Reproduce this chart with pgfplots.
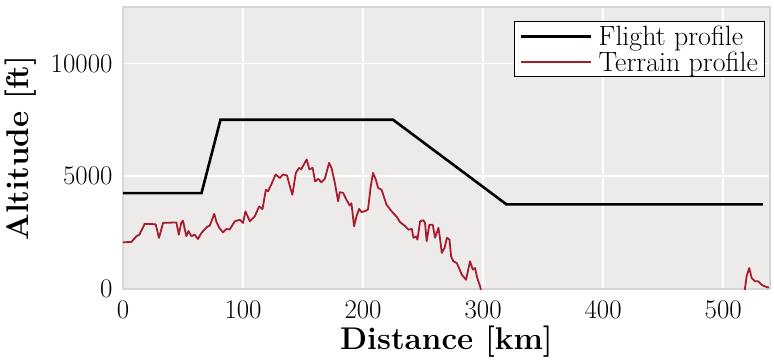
\documentclass[border=0pt]{standalone}
\usepackage{pgfplots}
\pgfplotsset{compat=1.18}
\definecolor{bgc}{RGB}{236,235,234}
\definecolor{terr}{RGB}{168,28,45}
\begin{document}
\begin{tikzpicture}
\begin{axis}[
 name=ax,
 scale only axis, width=647bp, height=282bp,
 xmin=0, xmax=539, ymin=0, ymax=12500,
 axis background/.style={fill=bgc},
 axis line style={draw=black!16, line width=1.5bp},
 grid=major, major grid style={white, line width=1.5bp},
 tick style={draw=none},
 xtick={0,100,200,300,400,500}, ytick={0,5000,10000},
 scaled y ticks=false,
 /pgf/number format/assume math mode=true,
 yticklabel style={/pgf/number format/1000 sep={}, xshift=-7bp},
 xticklabel style={yshift=-8bp},
 tick label style={font=\fontsize{27}{27}\selectfont},
 xlabel={\textbf{Distance [km]}}, ylabel={\textbf{Altitude [ft]}},
 label style={font=\fontsize{31.5}{31.5}\selectfont},
 xlabel style={at={(axis description cs:0.5,-0.185)}, anchor=center},
 ylabel style={at={(axis description cs:-0.158,0.5)}, anchor=center},
 legend style={at={(0.993,0.95)}, anchor=north east, draw=black, line width=1.2bp,
   font=\fontsize{28}{28}\selectfont, inner xsep=6bp, inner ysep=3bp,
   nodes={inner sep=1bp}, row sep=3bp, column sep=5bp, fill=white},
 legend cell align=left,
 legend image code/.code={\draw[#1] (0bp,0bp) -- (70bp,0bp);},
]
\addplot[black, line width=2.6bp] coordinates {
(0,4250) (65.4,4250) (81.2,7500) (225,7500) (319.5,3750) (533,3750)};
\addlegendentry{Flight profile}
\addplot[terr, line width=1.8bp, line join=round] coordinates {
(0,2070) (7,2085) (11.2,2340) (13.7,2410) (18.1,2890) (27.2,2870) (30,2265)
(33.4,2930) (44.5,2950) (46.5,2410) (48.5,2930) (50,3030) (51.5,2630) (52.8,2340)
(54.5,2570) (57,2340) (59.7,2410) (62.4,2215) (65.4,2490) (70,2750) (72.3,2810)
(76,3330) (78,2950) (80.3,2710) (83.3,2510) (86.1,2660) (88.9,2640) (93.1,3000)
(97.3,3070) (100,2930) (102,3440) (105.7,3000) (109.8,3220) (113.4,3660) (116.2,3540)
(119,4400) (120.8,4330) (122.8,4550) (127.2,5080) (130.6,4920) (133.4,5080) (136.7,5030)
(139,4550) (141.1,4180) (144,5150) (146.7,5370) (148.5,5310) (150.5,5500) (153,5740)
(155.3,5300) (158,5370) (160,4770) (162.7,4880) (165.3,4730) (168.1,4880) (171.7,5590)
(173.7,5370) (176.5,4700) (179.2,3890) (180.6,4290) (183.4,4260) (186.1,3960) (188.9,3700)
(190.3,3800) (192.5,2780) (194.5,3220) (196.7,3550) (198.7,3410) (201.3,3450) (204.1,3520)
(206.4,4550) (208.3,5150) (210.6,4850) (212.5,4480) (215.4,4400) (219.5,3740) (223.7,3450)
(228,3200) (231,2950) (235,2790) (237.8,2630) (240.6,2660) (242,2270) (244.2,2330)
(245.3,2190) (247.5,3000) (250.2,3050) (251.6,2930) (253,2120) (255.2,2850) (258,2850)
(260,2270) (262.8,2710) (264.2,2190) (265.6,1600) (267.9,1820) (269.8,2270) (272,2190)
(273.3,1450) (275.2,1230) (278.1,1150) (282.3,630) (285.8,410) (289.1,1230) (291.4,860)
(293.3,930) (295.1,490) (297.5,115) (299.5,-400) (310,-900) (400,-900) (510,-900)
(517.5,-100) (518.1,0) (519.5,560) (521.7,930) (523.7,490) (526.4,340) (529.2,340)
(532,190) (534.8,115) (538,60)};
\addlegendentry{Terrain profile}
\end{axis}
\pgfresetboundingbox
\path ([shift={(-123bp,-71bp)}]ax.south west) rectangle ([shift={(4bp,7bp)}]ax.north east);
\end{tikzpicture}
\end{document}
